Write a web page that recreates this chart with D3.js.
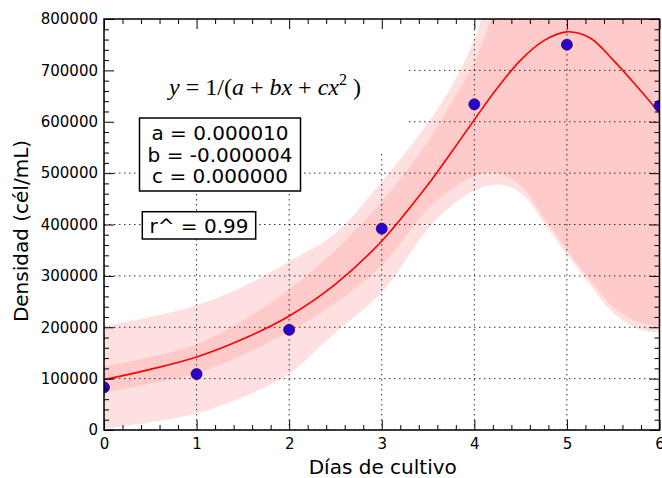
<!DOCTYPE html>
<html>
<head>
<meta charset="utf-8">
<script src="https://cdn.jsdelivr.net/npm/d3@7"></script>
<style>
  body { margin: 0; background: #fff; }
  text { font-family: "DejaVu Sans", sans-serif; fill: #000; }
</style>
</head>
<body>
<div id="chart"></div>
<script>
// measured points (dias, cel/mL)
const days = [0, 1, 2, 3, 4, 5, 6];
const density = [83000, 109000, 195000, 392000, 634000, 750000, 631000];

// fitted curve and the two bands
const fitX = [0, 0.5, 1, 1.5, 2, 2.5, 3, 3.5, 3.75, 4, 4.25, 4.5, 4.75, 5, 5.25, 5.5, 5.75, 6];
const fitY = [98000, 118000, 142000, 177000, 222000, 284000, 368000, 478000, 540000, 604000, 666000, 720000, 758000, 775000, 763000, 720000, 670000, 617000];
const innerHigh = [124000, 142000, 167000, 213000, 274000, 350000, 445000, 562000, 637000, 715000, 840000, 1000000, 1000000, 1000000, 1000000, 1000000, 1000000, 1000000];
const innerLow = [72000, 90000, 110000, 146000, 191000, 247000, 320000, 430000, 468000, 494000, 500000, 476000, 414000, 350000, 292000, 240000, 211000, 202000];
const outerHigh = [202000, 220000, 243000, 279000, 328000, 383000, 483000, 598000, 668000, 760000, 900000, 1000000, 1000000, 1000000, 1000000, 1000000, 1000000, 1000000];
const outerLow = [2000, 15000, 32000, 64000, 110000, 190000, 268000, 392000, 436000, 466000, 478000, 462000, 404000, 342000, 282000, 228000, 198000, 189000];

// ticks and labels
const xTicks = [0, 1, 2, 3, 4, 5, 6];
const yTicks = [0, 100000, 200000, 300000, 400000, 500000, 600000, 700000, 800000];
const paramLines = ["a = 0.000010", "b = -0.000004", "c = 0.000000"];
const r2Label = "r^ = 0.99";
const xLabel = "Días de cultivo";
const yLabel = "Densidad (cél/mL)";

const width = 662,
  height = 478;
const margin = { top: 19, right: 2.5, bottom: 48, left: 104 };
const w = width - margin.left - margin.right,
  h = height - margin.top - margin.bottom;

const svg = d3.select("#chart")
  .append("svg")
  .attr("width", width)
  .attr("height", height);

const g = svg.append("g")
  .attr("transform", `translate(${margin.left},${margin.top})`);

const x = d3.scaleLinear().domain([0, 6]).range([0, w]);
const y = d3.scaleLinear().domain([0, 800000]).range([h, 0]);

g.append("clipPath").attr("id", "plotclip")
  .append("rect").attr("width", w).attr("height", h);

const plot = g.append("g").attr("clip-path", "url(#plotclip)");

const rows = fitX.map((v, i) => ({
  x: v, fit: fitY[i],
  ilo: innerLow[i], ihi: innerHigh[i],
  olo: outerLow[i], ohi: outerHigh[i]
}));

const smooth = d3.curveCatmullRom.alpha(0.5);

// outer (light) band then inner (darker) band
plot.append("path")
  .datum(rows)
  .attr("fill", "#ffe0e0")
  .attr("d", d3.area()
    .x(d => x(d.x)).y0(d => y(d.olo)).y1(d => y(d.ohi))
    .curve(smooth));

plot.append("path")
  .datum(rows)
  .attr("fill", "#ffcaca")
  .attr("d", d3.area()
    .x(d => x(d.x)).y0(d => y(d.ilo)).y1(d => y(d.ihi))
    .curve(smooth));

// dotted grid
const grid = plot.append("g")
  .attr("stroke", "#000")
  .attr("stroke-width", 0.8)
  .attr("stroke-dasharray", "1.5,3.5");
grid.selectAll(".vg").data(xTicks).join("line")
  .attr("x1", d => x(d)).attr("x2", d => x(d))
  .attr("y1", 0).attr("y2", h);
grid.selectAll(".hg").data(yTicks).join("line")
  .attr("x1", 0).attr("x2", w)
  .attr("y1", d => y(d)).attr("y2", d => y(d));

// fitted curve
plot.append("path")
  .datum(rows)
  .attr("fill", "none")
  .attr("stroke", "#ff0000")
  .attr("stroke-width", 1.6)
  .attr("d", d3.line().x(d => x(d.x)).y(d => y(d.fit)).curve(smooth));

// points
plot.selectAll(".pt")
  .data(days)
  .join("circle")
  .attr("cx", d => x(d))
  .attr("cy", (d, i) => y(density[i]))
  .attr("r", 5.5)
  .attr("fill", "#2a00cc")
  .attr("stroke", "#1a0050")
  .attr("stroke-width", 0.7);

// white area behind the formula
g.append("rect")
  .attr("x", 0).attr("y", 0)
  .attr("width", 302).attr("height", 133)
  .attr("fill", "#fff");

// formula
const f = svg.append("text")
  .attr("x", 265).attr("y", 95)
  .attr("text-anchor", "middle")
  .style("font-family", "'Liberation Serif', serif")
  .style("font-size", "24px");
f.append("tspan").style("font-style", "italic").text("y");
f.append("tspan").text(" = 1/(");
f.append("tspan").style("font-style", "italic").text("a");
f.append("tspan").text(" + ");
f.append("tspan").style("font-style", "italic").text("bx");
f.append("tspan").text(" + ");
f.append("tspan").style("font-style", "italic").text("cx");
f.append("tspan").attr("dy", -10).style("font-size", "16px").text("2");
f.append("tspan").attr("dy", 10).text(" )");

// parameter box
svg.append("rect")
  .attr("x", 139.5).attr("y", 118)
  .attr("width", 161).attr("height", 73)
  .attr("fill", "#fff").attr("stroke", "#000").attr("stroke-width", 1.5);
svg.selectAll(".param")
  .data(paramLines)
  .join("text")
  .attr("x", 220)
  .attr("y", (d, i) => 140 + i * 21.7)
  .attr("text-anchor", "middle")
  .style("font-size", "20px")
  .text(d => d);

// r box
svg.append("rect")
  .attr("x", 142.3).attr("y", 211.7)
  .attr("width", 113.4).attr("height", 27.3)
  .attr("fill", "#fff").attr("stroke", "#000").attr("stroke-width", 1.5);
svg.append("text")
  .attr("x", 199).attr("y", 232.7)
  .attr("text-anchor", "middle")
  .style("font-size", "20px")
  .text(r2Label);

// axes: ticks pointing inward on all sides
function styleAxis(sel) {
  sel.select(".domain").remove();
  sel.selectAll(".tick line").attr("stroke", "#000").attr("stroke-width", 1);
  sel.selectAll(".tick text").style("font-size", "15px").style("font-family", "'DejaVu Sans', sans-serif");
}

const xMinor = x.ticks(24).filter(d => !xTicks.includes(d));
const yMinor = y.ticks(32).filter(d => !yTicks.includes(d));

g.append("g").attr("transform", `translate(0,${h})`)
  .call(d3.axisBottom(x).tickValues(xTicks).tickSize(-10).tickPadding(8).tickFormat(d3.format("d")))
  .call(styleAxis);
g.append("g").attr("transform", `translate(0,${h})`)
  .call(d3.axisBottom(x).tickValues(xMinor).tickSize(-5).tickFormat(""))
  .call(styleAxis);
g.append("g")
  .call(d3.axisTop(x).tickValues(xTicks).tickSize(-10).tickFormat(""))
  .call(styleAxis);
g.append("g")
  .call(d3.axisTop(x).tickValues(xMinor).tickSize(-5).tickFormat(""))
  .call(styleAxis);

g.append("g")
  .call(d3.axisLeft(y).tickValues(yTicks).tickSize(-10).tickPadding(6).tickFormat(d3.format("d")))
  .call(styleAxis);
g.append("g")
  .call(d3.axisLeft(y).tickValues(yMinor).tickSize(-5).tickFormat(""))
  .call(styleAxis);
g.append("g").attr("transform", `translate(${w},0)`)
  .call(d3.axisRight(y).tickValues(yTicks).tickSize(-10).tickFormat(""))
  .call(styleAxis);
g.append("g").attr("transform", `translate(${w},0)`)
  .call(d3.axisRight(y).tickValues(yMinor).tickSize(-5).tickFormat(""))
  .call(styleAxis);

// frame
g.append("rect")
  .attr("width", w).attr("height", h)
  .attr("fill", "none")
  .attr("stroke", "#000")
  .attr("stroke-width", 1.5);

// axis labels
svg.append("text")
  .attr("x", margin.left + w / 2 + 1).attr("y", 474)
  .attr("text-anchor", "middle")
  .style("font-size", "20px")
  .text(xLabel);

svg.append("text")
  .attr("transform", "translate(28,231) rotate(-90)")
  .attr("text-anchor", "middle")
  .style("font-size", "20px")
  .text(yLabel);
</script>
</body>
</html>
